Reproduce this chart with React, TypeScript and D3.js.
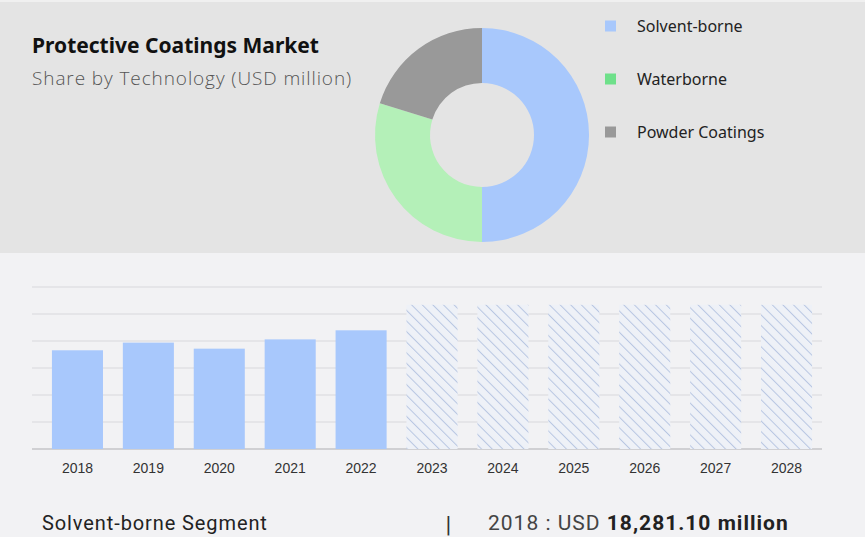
import React from "react";
import * as d3 from "d3";

const segments = ["Solvent-borne", "Waterborne", "Powder Coatings"];
const shares = [50, 29.8, 20.2];
const segmentColors = ["#a8c8fc", "#b4f0b8", "#999999"];
const legendSwatch = ["#a8c8fc", "#6ee08a", "#999999"];

const years = ["2018", "2019", "2020", "2021", "2022", "2023", "2024", "2025", "2026", "2027", "2028"];
const values = [18281.1, 19700, 18580, 20300, 21980, 26700, 26700, 26700, 26700, 26700, 26700];
const forecastFrom = "2023";
const yTicks = [0, 5000, 10000, 15000, 20000, 25000, 30000];

const W = 865;
const H = 537;

const App: React.FC = () => {
  const x = d3
    .scaleBand<string>()
    .domain(years)
    .range([42, 822])
    .paddingInner(0.28)
    .paddingOuter(0.14);

  const y = d3.scaleLinear().domain([0, 30000]).range([449, 287]);

  const pie = d3
    .pie<number>()
    .sort(null)
    .value((d) => d);
  const arc = d3.arc<d3.PieArcDatum<number>>().innerRadius(52).outerRadius(107);
  const arcs = pie(shares);

  const forecastIdx = years.indexOf(forecastFrom);

  return (
    <svg
      width={W}
      height={H}
      style={{ position: "absolute", left: 0, top: 0 }}
    >
      <defs>
        <pattern
          id="hatch"
          patternUnits="userSpaceOnUse"
          width={7.5}
          height={7.5}
          patternTransform="rotate(-45)"
        >
          <rect width={7.5} height={7.5} fill="#eef1f7" />
          <line x1={0} y1={0} x2={0} y2={7.5} stroke="#b8c6e2" strokeWidth={2} />
        </pattern>
      </defs>

      {/* backgrounds */}
      <rect x={0} y={0} width={W} height={H} fill="#f2f2f4" />
      <rect x={0} y={0} width={W} height={253} fill="#e4e4e4" />
      <rect x={0} y={0} width={W} height={2} fill="#f0f0f0" />

      {/* title */}
      <text
        x={32}
        y={53}
        fontFamily="'Noto Sans', sans-serif"
        fontWeight={700}
        fontSize={21}
        fill="#111"
      >
        Protective Coatings Market
      </text>
      <text
        x={32}
        y={85}
        fontFamily="'Open Sans', sans-serif"
        fontWeight={300}
        fontSize={19}
        letterSpacing={0.9}
        fill="#555"
      >
        Share by Technology (USD million)
      </text>

      {/* donut */}
      <g transform="translate(482,135)">
        {arcs.map((a, i) => (
          <path key={segments[i]} d={arc(a) ?? ""} fill={segmentColors[i]} />
        ))}
      </g>

      {/* legend */}
      {segments.map((s, i) => (
        <g key={s} transform={`translate(605, ${26 + i * 53})`}>
          <rect x={0} y={-5.5} width={11} height={11} fill={legendSwatch[i]} />
          <text
            x={32}
            y={5.5}
            fontFamily="'Noto Sans', sans-serif"
            fontSize={16}
            fill="#222"
          >
            {s}
          </text>
        </g>
      ))}

      {/* gridlines */}
      {yTicks.map((t) => (
        <line
          key={t}
          x1={32}
          x2={822}
          y1={y(t)}
          y2={y(t)}
          stroke={t === 0 ? "#c4c4c8" : "#d8d8dc"}
          strokeWidth={t === 0 ? 1.5 : 1}
        />
      ))}

      {/* bars */}
      {years.map((yr, i) => (
        <rect
          key={yr}
          x={x(yr)}
          y={y(values[i])}
          width={x.bandwidth()}
          height={y(0) - y(values[i])}
          fill={i >= forecastIdx ? "url(#hatch)" : "#a8c8fc"}
        />
      ))}

      {/* x labels */}
      {years.map((yr) => (
        <text
          key={yr}
          x={(x(yr) ?? 0) + x.bandwidth() / 2}
          y={473}
          textAnchor="middle"
          fontFamily="'Liberation Sans', Arial, sans-serif"
          fontSize={14}
          fill="#333"
        >
          {yr}
        </text>
      ))}

      {/* footer */}
      <text
        x={42}
        y={530}
        fontFamily="Roboto, sans-serif"
        fontSize={20}
        letterSpacing={0.9}
        fill="#222"
      >
        Solvent-borne Segment
      </text>
      <text
        x={445}
        y={531}
        fontFamily="'DejaVu Sans', sans-serif"
        fontSize={20}
        fill="#333"
      >
        |
      </text>
      <text
        x={488}
        y={530}
        fontFamily="Roboto, sans-serif"
        fontSize={21}
        letterSpacing={1}
        fill="#444"
      >
        2018 : USD{" "}
        <tspan fontWeight={700} fill="#222">
          {d3.format(",.2f")(values[0])} million
        </tspan>
      </text>
    </svg>
  );
};

export default App;
